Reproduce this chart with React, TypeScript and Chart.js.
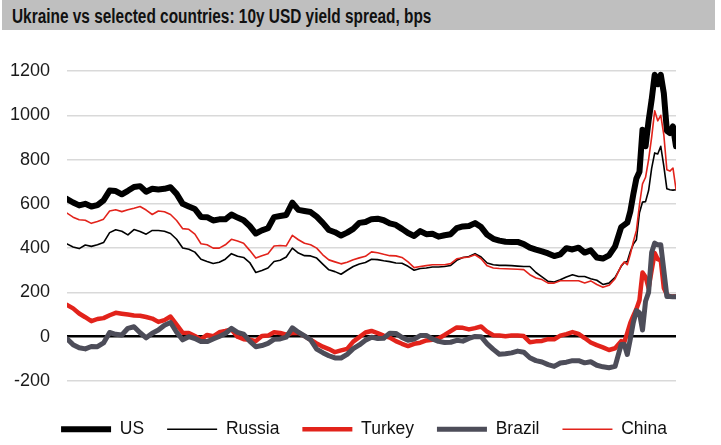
import React, { useEffect, useRef } from 'react';
import { Chart, registerables } from 'chart.js';

Chart.register(...registerables);

// Tick labels of the horizontal axis (evenly spaced, as in the source)
const xLabels = ['Apr-19', 'Jun-19', 'Aug-19', 'Nov-19', 'Jan-20', 'Mar-20'];

// Horizontal positions of observations (0 = Apr-19 tick, 100 = Mar-20 tick)
const xPos = [
  0, 1, 2, 3, 4, 5, 6, 7, 8, 9, 10, 11, 12, 13, 14, 15, 16, 17, 18, 19,
  20, 21, 22, 23, 24, 25, 26, 27, 28, 29, 30, 31, 32, 33, 34, 35, 36, 37, 38, 39,
  40, 41, 42, 43, 44, 45, 46, 47, 48, 49, 50, 51, 52, 53, 54, 55, 56, 57, 58, 59,
  60, 61, 62, 63, 64, 65, 66, 67, 68, 69, 70, 71, 72, 73, 74, 75, 76, 77, 78, 79,
  80, 81, 82, 83, 84, 85, 86, 87, 88, 89, 90, 91,
  91.5, 92, 92.5, 93, 93.5, 94, 94.5, 95, 95.5, 96, 96.5, 97, 97.5, 98, 98.5, 99, 99.5, 100,
];

const usSpread = [
  622, 606, 593, 600, 588, 594, 616, 660, 658, 643,
  659, 676, 680, 655, 668, 665, 668, 675, 645, 600,
  588, 577, 541, 540, 525, 530, 530, 552, 538, 526,
  500, 466, 480, 490, 540, 545, 550, 605, 573, 568,
  563, 542, 514, 482, 472, 457, 470, 487, 514, 518,
  531, 533, 526, 512, 505, 487, 468, 455, 477, 463,
  465, 452, 458, 463, 490, 498, 500, 513, 495, 460,
  442, 434, 429, 428, 428, 418, 402, 393, 385, 376,
  364, 372, 400, 394, 402, 380, 390, 358, 353, 367,
  408, 495,
  505, 515, 566, 645, 715, 745, 935, 860, 975, 1070, 1183, 1140, 1183, 1100, 930, 920, 950, 860,
];

const russiaSpread = [
  419, 405, 398, 414, 408, 415, 425, 470, 483, 476,
  460, 484, 475, 463, 480, 480, 476, 466, 440, 401,
  395, 382, 350, 340, 331, 336, 350, 375, 363, 358,
  335, 290, 299, 310, 340, 345, 360, 400, 378, 366,
  365, 355, 328, 302, 294, 282, 300, 317, 328, 335,
  350, 348, 343, 339, 333, 332, 318, 300, 308, 310,
  315, 315, 317, 322, 345, 358, 362, 375, 360, 333,
  325, 322, 322, 321, 319, 317, 317, 290, 270, 250,
  247, 257, 270, 280, 272, 272, 262, 255, 236, 242,
  268, 318,
  335, 340, 385, 418, 438, 560, 608, 610, 660, 760, 830, 825, 860, 770, 668, 664, 662, 664,
];

const turkeySpread = [
  144, 128, 105, 88, 70, 80, 84, 97, 108, 104,
  100, 96, 95, 89, 82, 67, 75, 91, 55, 18,
  17, 3, -12, 8, 2, 20, 26, 33, 0, -11,
  -14, -20, 3, 5, 20, 17, 9, 17, 18, 3,
  -14, -30, -45, -56, -70, -62, -55, -22, -2, 19,
  26, 16, 5, -4, -20, -32, -42, -32, -27, -17,
  -14, -8, 8, 25, 42, 40, 33, 39, 46, 22,
  7, 5, 2, 5, 5, 3, -25, -21, -19, -11,
  -12, 5, 12, 21, 13, -6, -26, -38, -48, -60,
  -52, -20,
  -25, 17, 62, 95, 125, 165, 290, 270, 220, 300, 378, 350, 345, 220, 190, 183, 182, 182,
];

const brazilSpread = [
  -10, -36, -50, -55, -44, -45, -28, 19, 11, 8,
  38, 45, 18, -5, 16, 30, 52, 64, 20, -14,
  0, -8, -22, -22, -10, 1, 14, 38, 20, 12,
  -20, -45, -40, -30, -12, -10, -2, 40, 20, 4,
  -14, -56, -72, -86, -96, -96, -80, -54, -37, -16,
  -2, -8, -7, 16, 15, -3, -16, -11, 5, 6,
  -10, -21, -26, -25, -16, -20, -8, 1, 0, -32,
  -57, -79, -77, -73, -65, -70, -95, -108, -114, -126,
  -134, -119, -115, -108, -108, -118, -113, -129, -136, -140,
  -134, -35,
  -34, -80, -10, 65, 118, 108, 30, 160, 200, 380, 423, 415, 415, 300, 182, 182, 180, 180,
];

const chinaSpread = [
  558, 540, 528, 526, 512, 520, 531, 568, 573, 565,
  573, 580, 588, 572, 552, 568, 564, 552, 525, 488,
  485, 463, 420, 415, 400, 400, 415, 440, 432, 422,
  390, 355, 366, 375, 410, 412, 410, 458, 438, 422,
  415, 400, 370, 347, 338, 329, 336, 348, 356, 363,
  383, 379, 372, 366, 365, 358, 338, 312, 317, 321,
  325, 325, 325, 330, 352, 357, 360, 370, 352, 320,
  310, 308, 307, 306, 305, 303, 280, 265, 258, 242,
  242, 253, 253, 253, 253, 243, 252, 236, 223, 232,
  262, 320,
  338, 325, 372, 430, 480, 596, 690, 720, 800, 900, 1020, 975, 1000, 912, 754, 748, 762, 665,
];

const seriesNames = ['US', 'Russia', 'Turkey', 'Brazil', 'China'];
const yTicks = { min: -200, max: 1200, step: 200 };

const FONT = '"Liberation Sans", Arial, Helvetica, sans-serif';

export default function App() {
  const canvasRef = useRef<HTMLCanvasElement>(null);

  useEffect(() => {
    if (!canvasRef.current) return;
    Chart.defaults.font.family = FONT;
    const toPoints = (arr: number[]) => arr.map((v, i) => ({ x: xPos[i], y: v }));

    const chart = new Chart(canvasRef.current, {
      type: 'line',
      data: {
        datasets: [
          { label: seriesNames[0], data: toPoints(usSpread), borderColor: '#000000', backgroundColor: '#000000', borderWidth: 6, order: 5 },
          { label: seriesNames[1], data: toPoints(russiaSpread), borderColor: '#000000', backgroundColor: '#000000', borderWidth: 1.6, order: 4 },
          { label: seriesNames[2], data: toPoints(turkeySpread), borderColor: '#e2231b', backgroundColor: '#e2231b', borderWidth: 4.5, order: 3 },
          { label: seriesNames[3], data: toPoints(brazilSpread), borderColor: '#4d4d59', backgroundColor: '#4d4d59', borderWidth: 5, order: 2 },
          { label: seriesNames[4], data: toPoints(chinaSpread), borderColor: '#e2231b', backgroundColor: '#e2231b', borderWidth: 1.6, order: 1 },
        ],
      },
      options: {
        responsive: false,
        animation: false,
        events: [],
        elements: {
          point: { radius: 0, hoverRadius: 0 },
          line: { tension: 0, borderJoinStyle: 'round', borderCapStyle: 'round', fill: false },
        },
        layout: { padding: { left: 7, right: 0, top: 71, bottom: -3 } },
        scales: {
          x: {
            type: 'linear',
            min: 0,
            max: 100,
            grid: { display: false },
            border: { display: false },
            ticks: {
              stepSize: 20,
              autoSkip: false,
              maxRotation: 0,
              padding: 11,
              color: '#1a1a1a',
              font: { size: 18 },
              callback: (v: any) => xLabels[Math.round(Number(v) / 20)] ?? '',
            },
            afterFit: (s: any) => { s.height = 16.5; },
          },
          y: {
            min: yTicks.min,
            max: yTicks.max,
            grid: {
              drawTicks: false,
              color: (c: any) => (c.tick && c.tick.value === 0 ? '#000000' : '#d9d9d9'),
              lineWidth: (c: any) => (c.tick && c.tick.value === 0 ? 2.5 : 1.5),
            },
            border: { display: false },
            ticks: {
              stepSize: yTicks.step,
              padding: 17,
              color: '#1a1a1a',
              font: { size: 18 },
              callback: (v: any) => String(v),
            },
            afterFit: (s: any) => { s.width = 60; },
          },
          y2: {
            position: 'right',
            display: true,
            grid: { display: false },
            border: { display: false },
            ticks: { display: false },
            afterFit: (s: any) => { s.width = 45; },
          },
        },
        plugins: {
          legend: {
            position: 'bottom',
            labels: {
              usePointStyle: true,
              pointStyle: 'line',
              pointStyleWidth: 50,
              padding: 23,
              color: '#111111',
              font: { size: 17.5 },
              sort: (a: any, b: any) => a.datasetIndex - b.datasetIndex,
            },
          },
          tooltip: { enabled: false },
          title: { display: false },
        },
      },
    } as any);

    return () => chart.destroy();
  }, []);

  return (
    <div style={{ position: 'absolute', left: 0, top: 0, width: 721, height: 445, background: '#ffffff', overflow: 'hidden' }}>
      <canvas ref={canvasRef} width={721} height={445} style={{ display: 'block', width: 721, height: 445 }} />
      <div
        style={{
          position: 'absolute',
          left: 2,
          top: 0,
          width: 713,
          height: 30,
          background: '#bfbfbf',
          overflow: 'hidden',
        }}
      >
        <span
          style={{
            display: 'inline-block',
            marginLeft: 10,
            transform: 'scaleX(0.77)',
            transformOrigin: '0 0',
            fontFamily: FONT,
            fontWeight: 'bold',
            fontSize: 20,
            lineHeight: '32px',
            whiteSpace: 'nowrap',
            color: '#111111',
          }}
        >
          Ukraine vs selected countries: 10y USD yield spread, bps
        </span>
      </div>
    </div>
  );
}
